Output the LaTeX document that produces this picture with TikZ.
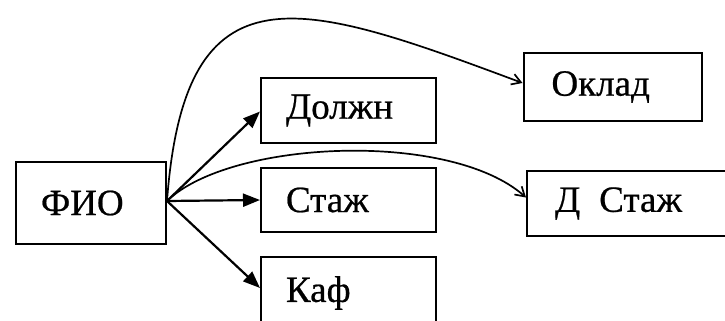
\documentclass[tikz,border=0pt]{standalone}
\usepackage{fontspec}
\setmainfont{Liberation Serif}
\newfontfamily\tnr[FakeBold=0.6]{Liberation Serif}
\usetikzlibrary{arrows.meta,calc}
\tikzset{
  box/.style={draw, line width=2pt, inner xsep=25pt, inner ysep=0pt, align=left,
    font=\tnr\fontsize{37}{40}\selectfont, anchor=center},
  sarrow/.style={line width=2.2pt, -{Triangle[length=17pt,width=13pt]}},
  carrow/.style={line width=1.7pt, -{Straight Barb[length=9pt,width=11pt]}}
}
\begin{document}
\begin{tikzpicture}[x=1pt,y=-1pt]
\useasboundingbox (0,0) rectangle (725,321);
\clip (0,0) rectangle (725,321);
\fill[white] (0,0) rectangle (725,321);
\node[box, minimum width=150pt, minimum height=82pt, text width=100pt] (fio) at (91,203) {ФИО};
\node[box, minimum width=175pt, minimum height=65pt, text width=125pt] (dolzhn) at (348.5,110.5) {Должн};
\node[box, minimum width=175pt, minimum height=64pt, text width=125pt] (stazh) at (348.5,200) {Стаж};
\node[box, minimum width=175pt, minimum height=72pt, text width=125pt] (kaf) at (348.5,293) {Каф};
\node[box, minimum width=175pt, minimum height=68pt, text width=122pt, inner xsep=28pt] (oklad) at (612.5,87) {Оклад};
\node[box, minimum width=210pt, minimum height=65pt, text width=154pt, inner xsep=28pt] (dstazh) at (632,203.5) {Д\hspace{19pt}Стаж};
\coordinate (src) at ($(fio.east)+(0,-2)$);
\draw[sarrow] (src) -- ($(dolzhn.west)+(0,1)$);
\draw[sarrow] (src) -- (stazh.west);
\draw[sarrow] (src) -- ($(kaf.north west)+(0,32)$);
\draw[carrow] (src) .. controls (185,-40) and (300,0) .. ($(oklad.west)+(0,-4)$);
\draw[carrow] (src) .. controls (230,140) and (450,130) .. ($(dstazh.west)+(0,-6)$);
\end{tikzpicture}
\end{document}
